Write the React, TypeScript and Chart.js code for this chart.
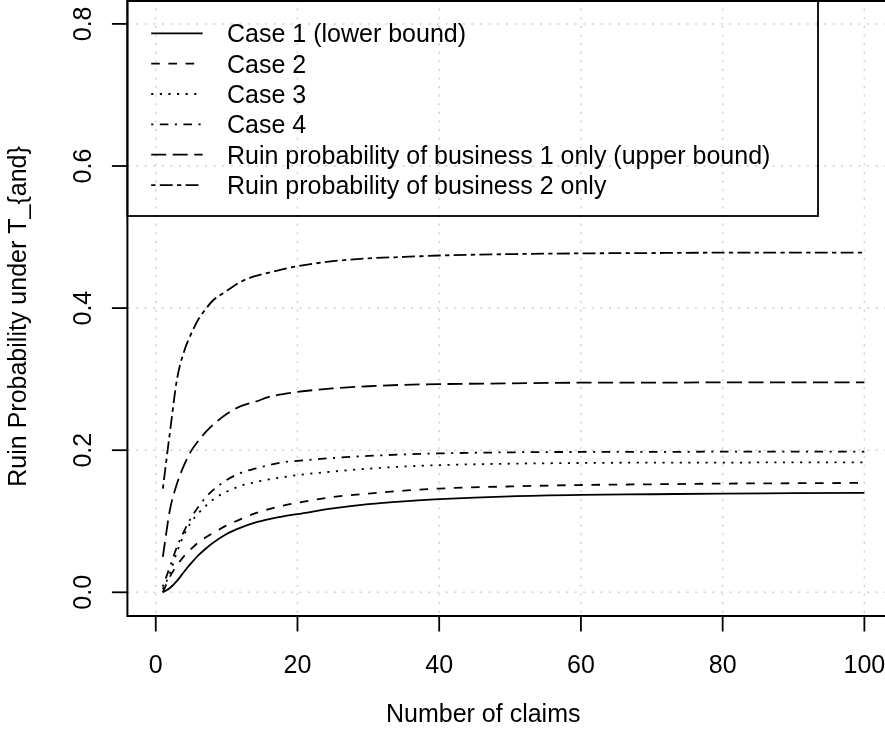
import React, { useEffect, useRef } from "react";
import { Chart, registerables } from "chart.js";

Chart.register(...registerables);

// ---- data ----
const claims = [1, 2, 3, 4, 5, 6, 7, 8, 10, 12, 14, 16, 18, 20, 25, 30, 35, 40, 50, 60, 70, 80, 90, 100];

const case1 = [0, 0.006, 0.016, 0.029, 0.041, 0.052, 0.061, 0.069, 0.082, 0.091, 0.098, 0.103, 0.107, 0.110, 0.118, 0.124, 0.128, 0.131, 0.135, 0.137, 0.138, 0.139, 0.1395, 0.140];
const case2 = [0, 0.022, 0.038, 0.051, 0.061, 0.070, 0.077, 0.083, 0.094, 0.103, 0.111, 0.117, 0.122, 0.126, 0.134, 0.139, 0.143, 0.146, 0.149, 0.151, 0.152, 0.153, 0.1535, 0.154];
const case3 = [0.004, 0.027, 0.057, 0.081, 0.099, 0.111, 0.121, 0.130, 0.1416, 0.150, 0.155, 0.159, 0.162, 0.165, 0.170, 0.174, 0.177, 0.179, 0.181, 0.182, 0.1825, 0.1825, 0.183, 0.183];
const case4 = [0.008, 0.036, 0.064, 0.086, 0.105, 0.120, 0.133, 0.143, 0.158, 0.168, 0.174, 0.179, 0.183, 0.185, 0.189, 0.192, 0.194, 0.1955, 0.197, 0.1975, 0.1975, 0.198, 0.198, 0.198];
const business1 = [0.050, 0.116, 0.153, 0.179, 0.199, 0.213, 0.225, 0.235, 0.251, 0.262, 0.268, 0.275, 0.279, 0.282, 0.287, 0.290, 0.292, 0.293, 0.294, 0.295, 0.295, 0.2955, 0.2955, 0.2955];
const business2 = [0.146, 0.225, 0.300, 0.339, 0.364, 0.384, 0.398, 0.410, 0.424, 0.437, 0.445, 0.450, 0.455, 0.459, 0.466, 0.470, 0.472, 0.474, 0.476, 0.477, 0.4775, 0.478, 0.478, 0.478];

const seriesNames = [
  "Case 1 (lower bound)",
  "Case 2",
  "Case 3",
  "Case 4",
  "Ruin probability of business 1 only (upper bound)",
  "Ruin probability of business 2 only",
];

const xTicks = [0, 20, 40, 60, 80, 100];
const xTickLabels = ["0", "20", "40", "60", "80", "100"];
const yTicks = [0, 0.2, 0.4, 0.6, 0.8];
const yTickLabels = ["0.0", "0.2", "0.4", "0.6", "0.8"];

const xTitle = "Number of claims";
const yTitle = "Ruin Probability under T_{and}";

// ---- styles ----
const U = 2.15; // R dash unit in px
const dashes: number[][] = [
  [],
  [4 * U, 4 * U],
  [1 * U, 3 * U],
  [1 * U, 3 * U, 4 * U, 3 * U],
  [7 * U, 3 * U],
  [2 * U, 2 * U, 6 * U, 2 * U],
];
const LW = 1.8;
const FONT = '25px "Liberation Sans", Arial, Helvetica, sans-serif';

const rPlot = {
  id: "rPlot",
  beforeDatasetsDraw(chart: any) {
    const { ctx, chartArea } = chart;
    const xs = chart.scales.x;
    const ys = chart.scales.y;
    ctx.save();
    ctx.beginPath();
    ctx.rect(chartArea.left, chartArea.top, chartArea.right - chartArea.left, chartArea.bottom - chartArea.top);
    ctx.clip();
    ctx.strokeStyle = "#d3d3d3";
    ctx.lineWidth = 1.5;
    ctx.setLineDash([1 * U, 3 * U]);
    for (const v of xTicks) {
      const px = xs.getPixelForValue(v);
      ctx.beginPath();
      ctx.moveTo(px, chartArea.top);
      ctx.lineTo(px, chartArea.bottom);
      ctx.stroke();
    }
    for (const v of yTicks) {
      const py = ys.getPixelForValue(v);
      ctx.beginPath();
      ctx.moveTo(chartArea.left, py);
      ctx.lineTo(chartArea.right, py);
      ctx.stroke();
    }
    ctx.restore();
  },
  afterDatasetsDraw(chart: any) {
    const { ctx, chartArea } = chart;
    const xs = chart.scales.x;
    const ys = chart.scales.y;
    const L = chartArea.left;
    const B = chartArea.bottom;
    ctx.save();
    ctx.setLineDash([]);
    ctx.strokeStyle = "#000";
    ctx.lineWidth = 2;
    // box (left, bottom, top)
    ctx.beginPath();
    ctx.moveTo(chartArea.right + 5, 1);
    ctx.lineTo(L, 1);
    ctx.lineTo(L, B);
    ctx.lineTo(chartArea.right + 5, B);
    ctx.stroke();
    // ticks
    ctx.lineWidth = 1.8;
    const TL = 15.5;
    for (const v of xTicks) {
      const px = xs.getPixelForValue(v);
      ctx.beginPath();
      ctx.moveTo(px, B);
      ctx.lineTo(px, B + TL);
      ctx.stroke();
    }
    for (const v of yTicks) {
      const py = ys.getPixelForValue(v);
      ctx.beginPath();
      ctx.moveTo(L, py);
      ctx.lineTo(L - TL, py);
      ctx.stroke();
    }
    // tick labels
    ctx.fillStyle = "#000";
    ctx.font = FONT;
    ctx.textAlign = "center";
    ctx.textBaseline = "alphabetic";
    xTicks.forEach((v, i) => {
      ctx.fillText(xTickLabels[i], xs.getPixelForValue(v), 673);
    });
    yTicks.forEach((v, i) => {
      ctx.save();
      ctx.translate(90.7, ys.getPixelForValue(v));
      ctx.rotate(-Math.PI / 2);
      ctx.fillText(yTickLabels[i], 0, 0);
      ctx.restore();
    });
    // axis titles
    ctx.textAlign = "left";
    ctx.fillText(xTitle, 386, 722);
    ctx.save();
    ctx.translate(26, 486.7);
    ctx.rotate(-Math.PI / 2);
    ctx.fillText(yTitle, 0, 0);
    ctx.restore();
    // legend
    ctx.lineWidth = 1.8;
    ctx.strokeRect(L, 1, 818 - L, 215);
    seriesNames.forEach((name, i) => {
      const cy = 33.3 + 30.35 * i;
      ctx.save();
      ctx.lineWidth = LW;
      ctx.setLineDash(dashes[i]);
      ctx.lineDashOffset = 0;
      ctx.beginPath();
      ctx.moveTo(151.2, cy);
      ctx.lineTo(202.6, cy);
      ctx.stroke();
      ctx.restore();
      ctx.fillText(name, 227, cy + 9);
    });
    ctx.restore();
  },
};

export default function App() {
  const ref = useRef<HTMLCanvasElement | null>(null);
  useEffect(() => {
    document.body.style.margin = "0";
    document.body.style.overflow = "hidden";
    const canvas = ref.current!;
    const allSeries = [case1, case2, case3, case4, business1, business2];
    const chart = new Chart(canvas, {
      type: "line",
      data: {
        datasets: allSeries.map((s, i) => ({
          label: seriesNames[i],
          data: claims.map((c, j) => ({ x: c, y: s[j] })),
          borderColor: "#000",
          borderWidth: LW,
          borderDash: dashes[i],
          pointRadius: 0,
          fill: false,
          cubicInterpolationMode: "monotone" as const,
        })),
      },
      options: {
        animation: false,
        responsive: false,
        devicePixelRatio: 1,
        layout: { padding: 0 },
        plugins: { legend: { display: false }, tooltip: { enabled: false }, title: { display: false } },
        scales: {
          x: {
            type: "linear",
            min: -4,
            max: 102.91,
            grid: { display: false },
            border: { display: false },
            ticks: { display: false },
            afterFit: (s: any) => {
              s.height = 124;
            },
          },
          y: {
            type: "linear",
            min: -0.03336,
            max: 0.83364,
            grid: { display: false },
            border: { display: false },
            ticks: { display: false },
            afterFit: (s: any) => {
              s.width = 127.4;
            },
          },
        },
      },
      plugins: [rPlot],
    });
    return () => chart.destroy();
  }, []);
  return <canvas ref={ref} width={885} height={740} style={{ display: "block", width: 885, height: 740 }} />;
}
